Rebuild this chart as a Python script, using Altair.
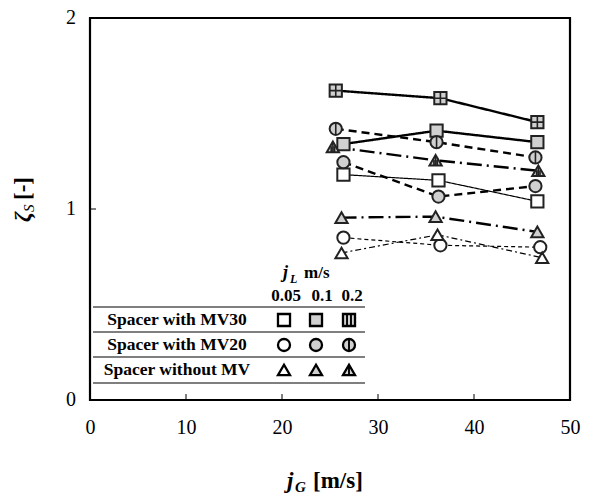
import altair as alt
import pandas as pd

# ---------------- data ----------------
groups = ["MV30", "MV20", "noMV"]
group_labels = ["Spacer with MV30", "Spacer with MV20", "Spacer without MV"]
jL_levels = ["0.05", "0.1", "0.2"]

jG_MV30_005 = [26.4, 36.3, 46.6]
zeta_MV30_005 = [1.18, 1.15, 1.04]
jG_MV30_01 = [26.4, 36.1, 46.6]
zeta_MV30_01 = [1.34, 1.41, 1.35]
jG_MV30_02 = [25.6, 36.5, 46.6]
zeta_MV30_02 = [1.62, 1.58, 1.455]

jG_MV20_005 = [26.4, 36.5, 46.9]
zeta_MV20_005 = [0.85, 0.81, 0.80]
jG_MV20_01 = [26.4, 36.3, 46.4]
zeta_MV20_01 = [1.245, 1.065, 1.12]
jG_MV20_02 = [25.6, 36.1, 46.4]
zeta_MV20_02 = [1.42, 1.35, 1.27]

jG_noMV_005 = [26.2, 36.2, 47.1]
zeta_noMV_005 = [0.77, 0.865, 0.745]
jG_noMV_01 = [26.2, 36.0, 46.6]
zeta_noMV_01 = [0.955, 0.96, 0.88]
jG_noMV_02 = [25.3, 36.0, 46.7]
zeta_noMV_02 = [1.325, 1.255, 1.20]

x_ticks = [0, 10, 20, 30, 40, 50]
y_ticks = [0, 1, 2]
y_tick_labels = ["0", "1", "2"]

series = [
    ("MV30", "0.05", jG_MV30_005, zeta_MV30_005),
    ("MV30", "0.1", jG_MV30_01, zeta_MV30_01),
    ("MV30", "0.2", jG_MV30_02, zeta_MV30_02),
    ("MV20", "0.05", jG_MV20_005, zeta_MV20_005),
    ("MV20", "0.1", jG_MV20_01, zeta_MV20_01),
    ("MV20", "0.2", jG_MV20_02, zeta_MV20_02),
    ("noMV", "0.05", jG_noMV_005, zeta_noMV_005),
    ("noMV", "0.1", jG_noMV_01, zeta_noMV_01),
    ("noMV", "0.2", jG_noMV_02, zeta_noMV_02),
]

# ---------------- styles ----------------
W, H = 480, 382
FONT = "Liberation Serif"
INK = "#222222"
shape_of = {"MV30": "square", "MV20": "circle", "noMV": "triangle-up"}
fill_of = {"0.05": "#ffffff", "0.1": "#d0d0d0", "0.2": "#d0d0d0"}
pattern_plot = {"MV30": "M0,-1L0,1M-1,0L1,0", "MV20": "M0,-1L0,1",
                "noMV": "M-0.28,-0.1L-0.28,0.9M0,-0.6L0,0.9M0.28,-0.1L0.28,0.9"}
pattern_legend = {"MV30": "M-0.33,-1L-0.33,1M0.33,-1L0.33,1", "MV20": "M0,-1L0,1",
                  "noMV": "M0,-0.6L0,0.9"}
dash = {
    ("MV30", "0.05"): [1, 0], ("MV30", "0.1"): [1, 0], ("MV30", "0.2"): [1, 0],
    ("MV20", "0.05"): [4, 3], ("MV20", "0.1"): [8, 5], ("MV20", "0.2"): [8, 5],
    ("noMV", "0.05"): [6, 3, 2, 3], ("noMV", "0.1"): [15, 5, 2, 5], ("noMV", "0.2"): [15, 5, 2, 5],
}
widths = {"0.05": 1.2, "0.1": 2.4, "0.2": 2.4}

rows = []
for g, jl, xs, ys in series:
    for xv, yv in zip(xs, ys):
        rows.append({"group": g, "jL": jl, "jG": xv, "zeta": yv, "key": g + "_" + jl})
df = pd.DataFrame(rows)

xs_scale = alt.Scale(domain=[0, 50], nice=False)
ys_scale = alt.Scale(domain=[0, 2], nice=False)
x_axis = alt.Axis(values=x_ticks, title=None, ticks=False, domain=False, grid=False, format="d",
                  labelFont=FONT, labelFontSize=20, labelColor="black", labelPadding=17,
                  labelFlush=False, labelOverlap=False)

base = alt.Chart(df)
X = alt.X("jG:Q", scale=xs_scale)
Y = alt.Y("zeta:Q", scale=ys_scale)

layers = []
# axis carrier (invisible)
layers.append(base.mark_point(opacity=0).encode(
    x=alt.X("jG:Q", scale=xs_scale, axis=x_axis),
    y=alt.Y("zeta:Q", scale=ys_scale, axis=None)))

# y tick labels
ylab_df = pd.DataFrame({"t": y_ticks, "label": y_tick_labels})
layers.append(alt.Chart(ylab_df).mark_text(font=FONT, fontSize=20, align="right", baseline="middle",
                                          color="black").encode(
    y=alt.Y("t:Q", scale=ys_scale), x=alt.value(-14), text="label:N"))

# lines
for g, jl, xs, ys in series:
    layers.append(base.transform_filter(alt.datum.key == g + "_" + jl).mark_line(
        color="black", strokeWidth=widths[jl], strokeDash=dash[(g, jl)]).encode(x=X, y=Y))

# markers
for g, jl, xs, ys in series:
    sub = base.transform_filter(alt.datum.key == g + "_" + jl)
    layers.append(sub.mark_point(shape=shape_of[g], filled=True, fill=fill_of[jl], stroke=INK,
                                 strokeWidth=2, size=150, opacity=1).encode(x=X, y=Y))
    if jl == "0.2":
        layers.append(sub.mark_point(shape=pattern_plot[g], filled=False, stroke=INK,
                                     strokeWidth=1.6, size=150, opacity=1).encode(x=X, y=Y))

# inward ticks
tick_df = pd.DataFrame({"t": x_ticks[1:-1]})
layers.append(alt.Chart(tick_df).mark_rule(color="black", strokeWidth=1).encode(
    x=alt.X("t:Q", scale=xs_scale), y=alt.value(H), y2=alt.value(H - 6)))
ytick_df = pd.DataFrame({"t": y_ticks[1:-1]})
layers.append(alt.Chart(ytick_df).mark_rule(color="black", strokeWidth=1).encode(
    y=alt.Y("t:Q", scale=ys_scale), x=alt.value(0), x2=alt.value(6)))

# ---------------- legend table ----------------
OX, OY = 90, 18
col_x = [284, 316, 349]
row_y = [320, 345, 370]
line_y = [307, 332, 357, 383]
line_x = [93, 365]

leg_rows = []
for i, g in enumerate(groups):
    for j, jl in enumerate(jL_levels):
        leg_rows.append({"group": g, "jL": jl, "px": col_x[j] - OX, "py": row_y[i] - OY})
leg_df = pd.DataFrame(leg_rows)
LX = alt.X("px:Q", scale=None)
LY = alt.Y("py:Q", scale=None)
for g in groups:
    for jl in jL_levels:
        sub = alt.Chart(leg_df).transform_filter(
            (alt.datum.group == g) & (alt.datum.jL == jl))
        layers.append(sub.mark_point(shape=shape_of[g], filled=True, fill=fill_of[jl], stroke="black",
                                     strokeWidth=2.3, size=145, opacity=1).encode(x=LX, y=LY))
        if jl == "0.2":
            layers.append(sub.mark_point(shape=pattern_legend[g], filled=False, stroke="black",
                                         strokeWidth=1.9, size=145, opacity=1).encode(x=LX, y=LY))

lab_df = pd.DataFrame({"label": group_labels, "py": [y - OY for y in row_y]})
layers.append(alt.Chart(lab_df).mark_text(font=FONT, fontSize=17.5, fontWeight="bold",
                                         align="center", baseline="middle", color="black").encode(
    x=alt.value(177 - OX), y=LY, text="label:N"))

hdr_df = pd.DataFrame({"label": jL_levels, "px": [286 - OX, 322 - OX, 352 - OX]})
layers.append(alt.Chart(hdr_df).mark_text(font=FONT, fontSize=17, fontWeight="bold",
                                         align="center", baseline="middle", color="black").encode(
    x=LX, y=alt.value(296 - OY), text="label:N"))

sep_df = pd.DataFrame({"py": [y - OY for y in line_y]})
layers.append(alt.Chart(sep_df).mark_rule(color="#555555", strokeWidth=1.5).encode(
    y=LY, x=alt.value(line_x[0] - OX), x2=alt.value(line_x[1] - OX)))


def txt(s, x, y, size=15, weight="bold", style="normal", align="left", angle=0, baseline="alphabetic"):
    kw = dict(text=s, font=FONT, fontSize=size, fontWeight=weight, fontStyle=style,
              align=align, baseline=baseline, color="black")
    if angle:
        kw["angle"] = angle
    return alt.Chart(pd.DataFrame({"a": [0]})).mark_text(**kw).encode(
        x=alt.value(x - OX), y=alt.value(y - OY))


# header j_L m/s
layers.append(txt("j", 283, 278, size=18, style="italic"))
layers.append(txt("L", 290, 283, size=12, style="italic"))
layers.append(txt("m/s", 304, 278, size=17))

# x title j_G [m/s]
layers.append(txt("j", 287, 488, size=23, style="italic"))
layers.append(txt("G", 295, 492, size=15, style="italic"))
layers.append(txt("[m/s]", 313, 488, size=23))

# y title zeta_S [-]
layers.append(txt("ζ", 30, 222, size=23, style="italic", angle=270))
layers.append(txt("S", 34, 212, size=15, style="italic", weight="normal", angle=270))
layers.append(txt("[-]", 30, 200, size=23, angle=270))

chart = alt.layer(*layers).properties(
    width=W, height=H,
    background="white",
    autosize=alt.AutoSizeParams(type="none"),
    padding={"left": OX, "top": OY, "right": 603 - OX - W, "bottom": 499 - OY - H},
).configure_view(stroke="black", strokeWidth=2.2)

chart.save("out.html", embed_options={"renderer": "svg", "actions": False})
